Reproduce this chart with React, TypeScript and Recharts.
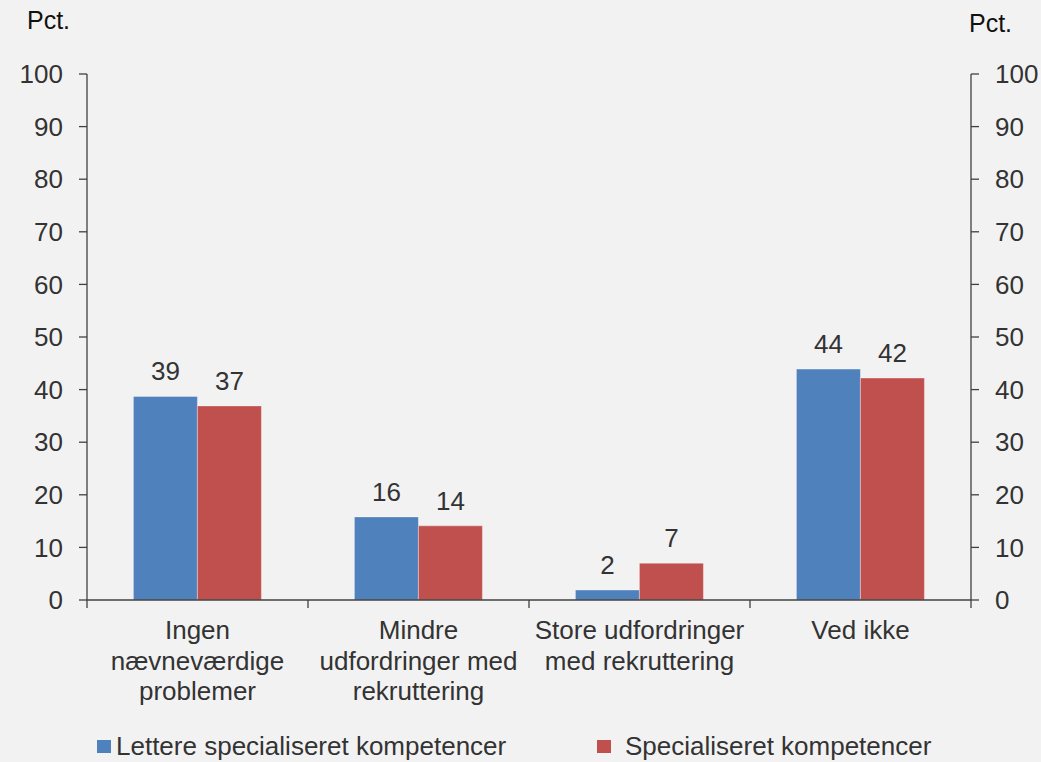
import React from "react";
import { BarChart, Bar, XAxis, YAxis, LabelList } from "recharts";

const categories: string[][] = [
  ["Ingen", "nævneværdige", "problemer"],
  ["Mindre", "udfordringer med", "rekruttering"],
  ["Store udfordringer", "med rekruttering"],
  ["Ved ikke"],
];
const lettere = [38.7, 15.8, 1.9, 43.9];
const special = [36.9, 14.1, 7.0, 42.2];
const yTicks = [0, 10, 20, 30, 40, 50, 60, 70, 80, 90, 100];
const seriesNames = ["Lettere specialiseret kompetencer", "Specialiseret kompetencer"];
const colors = ["#4f81bd", "#c0504d"];

const data = categories.map((c, i) => ({
  name: c.join(" "),
  lines: c,
  a: lettere[i],
  b: special[i],
}));

const W = 1041;
const H = 762;
const margin = { top: 74, right: 10, bottom: 62, left: 27 };
const yW = 60;
const plotLeft = margin.left + yW;
const plotRight = W - margin.right - yW;
const band = (plotRight - plotLeft) / categories.length;
const AX = "#404040";
const TXT = "#333333";
const FS = 26;
const FONT = "'Liberation Sans', Arial, sans-serif";

const XTick = (props: any) => {
  const { x, y, payload, index } = props;
  const lines: string[] = data[index]?.lines ?? [payload.value];
  return (
    <g>
      <line x1={x - band / 2} x2={x - band / 2} y1={y - 8} y2={y} stroke={AX} strokeWidth={1.3} />
      {index === categories.length - 1 && (
        <line x1={x + band / 2} x2={x + band / 2} y1={y - 8} y2={y} stroke={AX} strokeWidth={1.3} />
      )}
      <text x={x} y={y + 31} textAnchor="middle" fill={TXT} fontSize={FS} fontFamily={FONT}>
        {lines.map((l, i) => (
          <tspan key={i} x={x} dy={i === 0 ? 0 : 30.5}>
            {l}
          </tspan>
        ))}
      </text>
    </g>
  );
};

const fmt = (v: any) => Math.round(Number(v));

export default function App() {
  return (
    <div style={{ position: "relative", width: W, height: H, background: "#f2f2f2", fontFamily: FONT }}>
      <style>{`body{margin:0;background:#f2f2f2}`}</style>
      <BarChart width={W} height={H} data={data} margin={margin} barCategoryGap="21%" barGap={0}>
        <XAxis
          dataKey="name"
          tick={<XTick />}
          tickLine={false}
          axisLine={{ stroke: AX, strokeWidth: 1.3 }}
          height={100}
          interval={0}
        />
        <YAxis
          yAxisId="left"
          orientation="left"
          width={yW}
          domain={[0, 100]}
          ticks={yTicks}
          tickSize={8}
          tickMargin={16}
          axisLine={{ stroke: AX, strokeWidth: 1.3 }}
          tickLine={{ stroke: AX, strokeWidth: 1.3 }}
          tick={{ fill: TXT, fontSize: FS, fontFamily: FONT }}
          interval={0}
        />
        <YAxis
          yAxisId="right"
          orientation="right"
          width={yW}
          domain={[0, 100]}
          ticks={yTicks}
          tickSize={8}
          tickMargin={16}
          axisLine={{ stroke: AX, strokeWidth: 1.3 }}
          tickLine={{ stroke: AX, strokeWidth: 1.3 }}
          tick={{ fill: TXT, fontSize: FS, fontFamily: FONT }}
          interval={0}
        />
        <Bar
          dataKey="a"
          yAxisId="left"
          fill={colors[0]}
          stroke="rgba(255,255,255,0.35)"
          strokeWidth={1}
          isAnimationActive={false}
        >
          <LabelList
            dataKey="a"
            position="top"
            offset={16}
            formatter={fmt}
            style={{ fill: TXT, fontSize: FS, fontFamily: FONT }}
          />
        </Bar>
        <Bar
          dataKey="b"
          yAxisId="right"
          fill={colors[1]}
          stroke="rgba(255,255,255,0.35)"
          strokeWidth={1}
          isAnimationActive={false}
        >
          <LabelList
            dataKey="b"
            position="top"
            offset={16}
            formatter={fmt}
            style={{ fill: TXT, fontSize: FS, fontFamily: FONT }}
          />
        </Bar>
      </BarChart>
      <div style={{ position: "absolute", left: 27, top: 5, fontSize: 25, color: "#111", lineHeight: "30px" }}>Pct.</div>
      <div style={{ position: "absolute", left: 969, top: 8, fontSize: 25, color: "#111", lineHeight: "30px" }}>Pct.</div>
      <div
        style={{
          position: "absolute",
          left: 97,
          top: 731,
          fontSize: FS,
          lineHeight: "30px",
          color: TXT,
          display: "flex",
          alignItems: "center",
          whiteSpace: "nowrap",
        }}
      >
        <span style={{ display: "inline-block", width: 14, height: 13, background: colors[0], marginRight: 5 }} />
        {seriesNames[0]}
      </div>
      <div
        style={{
          position: "absolute",
          left: 597,
          top: 731,
          fontSize: FS,
          lineHeight: "30px",
          color: TXT,
          display: "flex",
          alignItems: "center",
          whiteSpace: "nowrap",
        }}
      >
        <span style={{ display: "inline-block", width: 14, height: 13, background: colors[1], marginRight: 14 }} />
        {seriesNames[1]}
      </div>
    </div>
  );
}
